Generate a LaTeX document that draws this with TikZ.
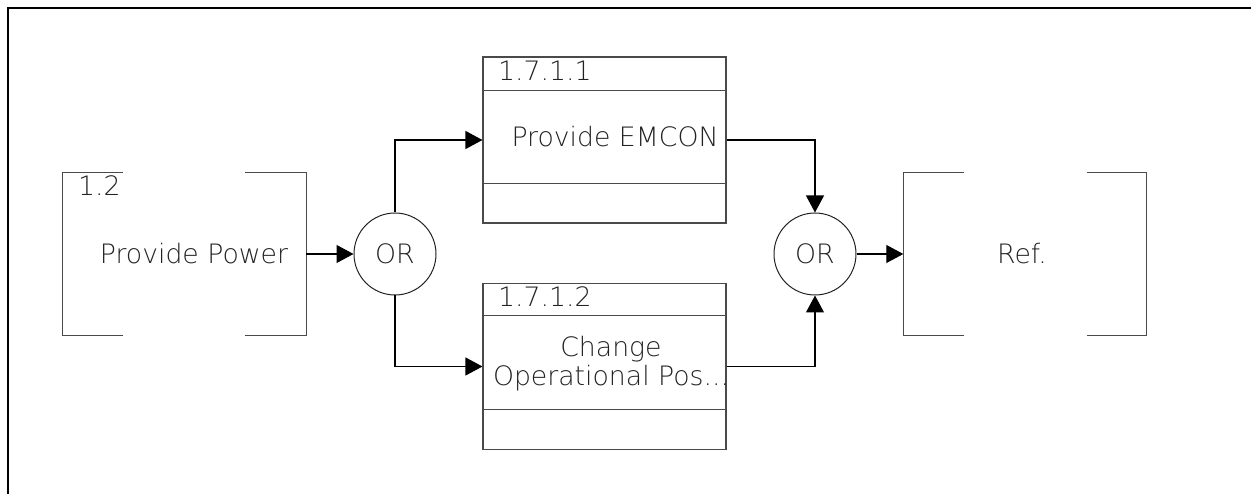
\documentclass[tikz,border=0pt]{standalone}
\usepackage{fontspec}
\setmainfont{DejaVu Sans ExtraLight}
\usepackage{tikz}
\usetikzlibrary{arrows.meta,positioning,calc}
\definecolor{ink}{HTML}{222222}
\definecolor{edge}{HTML}{4A4A4A}
\tikzset{
  brk/.style={draw=edge,line width=1.1pt},
  bracketbox/.style={minimum width=243pt,minimum height=163pt,inner sep=0pt},
  procbox/.style={draw=edge,line width=1.1pt,minimum width=243pt,minimum height=166pt,inner sep=0pt},
  orgate/.style={circle,draw=ink,line width=1pt,minimum size=82pt,inner sep=0pt,
    font=\fontsize{26.7}{29}\selectfont,text=ink},
  lbl/.style={font=\fontsize{26.7}{29}\selectfont,text=ink,inner sep=0pt,align=center},
  idlbl/.style={lbl,anchor=base west},
  arr/.style={-{Triangle[length=17pt,width=18pt]},draw=black,line width=1.1pt},
  frame/.style={draw=black,line width=2pt},
}

\begin{document}
\begin{tikzpicture}[x=1pt,y=-1pt]
    \useasboundingbox (0,0) rectangle (1251,494);
    \draw[frame] (7.5,494) -- (7.5,8.5) -- (1251,8.5);

    % external reference on the left
    \node[bracketbox] (pp) at (184.5,254) {};
    \draw[brk] ($(pp.north west)+(60,0)$) -- (pp.north west) -- (pp.south west) -- ++(60,0);
    \draw[brk] ($(pp.north east)+(-61,0)$) -- (pp.north east) -- (pp.south east) -- ++(-61,0);
    \node[idlbl] (ppid) at (78,196) {1.2};
    \node[lbl] (ppt) at (194,254) {Provide Power};

    \node[orgate] (or1) at (395,254) {OR};

    % the two functions
    \node[procbox] (p1) at (604.5,140) {};
    \draw[brk] ($(p1.north west)+(0,34)$) -- ($(p1.north east)+(0,34)$);
    \draw[brk] ($(p1.south west)+(0,-40)$) -- ($(p1.south east)+(0,-40)$);
    \node[idlbl] (p1id) at (498,81) {1.7.1.1};
    \node[lbl] (p1t) at (615,137) {Provide EMCON};

    \node[procbox] (p2) at (604.5,366.5) {};
    \draw[brk] ($(p2.north west)+(0,33)$) -- ($(p2.north east)+(0,33)$);
    \draw[brk] ($(p2.south west)+(0,-41)$) -- ($(p2.south east)+(0,-41)$);
    \node[idlbl] (p2id) at (498,307) {1.7.1.2};
    \node[lbl] (p2t) at (611,364) {Change\\Operational Pos...};

    \node[orgate] (or2) at (815,254) {OR};

    % external reference on the right
    \node[bracketbox] (ref) at (1025,254) {};
    \draw[brk] ($(ref.north west)+(61,0)$) -- (ref.north west) -- (ref.south west) -- ++(61,0);
    \draw[brk] ($(ref.north east)+(-60,0)$) -- (ref.north east) -- (ref.south east) -- ++(-60,0);
    \node[lbl] (reft) at (1022,254) {Ref.};

    \draw[arr] (pp.east) -- (or1.west);
    \draw[arr] (or1.north) |- (p1.west);
    \draw[arr] (or1.south) |- (p2.west);
    \draw[arr] (p1.east) -| (or2.north);
    \draw[arr] (p2.east) -| (or2.south);
    \draw[arr] (or2.east) -- (ref.west);
\end{tikzpicture}
\end{document}
